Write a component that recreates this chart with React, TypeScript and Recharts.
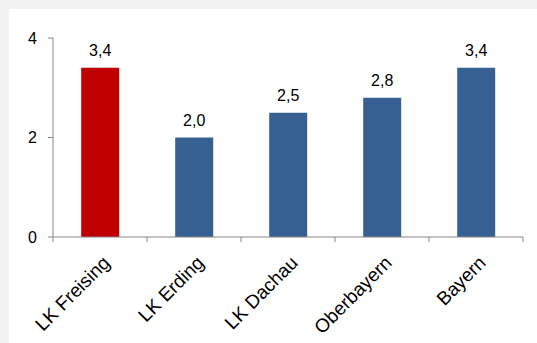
import { Bar, BarChart, Cell, LabelList, Line, XAxis, YAxis } from 'recharts';

const regions = ['LK Freising', 'LK Erding', 'LK Dachau', 'Oberbayern', 'Bayern'];
const values = [3.4, 2.0, 2.5, 2.8, 3.4];
const barColors = ['#c00000', '#376092', '#376092', '#376092', '#376092'];
const slotPositions = [0.5, 1.5, 2.5, 3.5, 4.5];
const yTicks = [0, 2, 4];
const boundaryTicks = [0, 1, 2, 3, 4, 5];

const data = regions.map((name, i) => ({ name, value: values[i], pos: slotPositions[i] }));

const FONT = '"Liberation Sans", Arial, sans-serif';
const AXIS = '#868686';

function RotatedTick(props: any) {
  const { x, y, payload } = props;
  const ax = x + 11;
  const ay = y + 18;
  return (
    <text
      x={ax}
      y={ay}
      transform={`rotate(-45, ${ax}, ${ay})`}
      textAnchor="end"
      fontSize={19}
      fontFamily={FONT}
      fill="#000"
    >
      {payload.value}
    </text>
  );
}

// tick marks only, no labels
const NoLabel = () => <g />;

export default function App() {
  return (
    <div style={{ position: 'absolute', left: 0, top: 0, width: 537, height: 343, background: '#f2f2f2' }}>
      <div style={{ position: 'absolute', left: 9, top: 9, width: 528, height: 334, background: '#fff' }} />
      <div style={{ position: 'absolute', left: 0, top: 0 }}>
        <BarChart
          width={537}
          height={343}
          data={data}
          margin={{ top: 38, right: 14, bottom: 16, left: 8 }}
          barCategoryGap="30%"
          style={{ fontFamily: FONT }}
        >
          <XAxis
            xAxisId="a"
            dataKey="pos"
            type="number"
            domain={[0, 5]}
            ticks={boundaryTicks}
            tick={<NoLabel />}
            height={1}
            stroke={AXIS}
            tickSize={5}
            allowDataOverflow
          />
          <XAxis
            xAxisId="b"
            dataKey="name"
            axisLine={false}
            tickLine={false}
            height={89}
            interval={0}
            tick={<RotatedTick />}
          />
          <YAxis
            domain={[0, 4]}
            ticks={yTicks}
            width={45}
            stroke={AXIS}
            tickSize={5}
            tickMargin={11}
            tick={{ fontSize: 16, fill: '#000', fontFamily: FONT }}
          />
          <Bar dataKey="value" xAxisId="b" isAnimationActive={false}>
            {data.map((d, i) => (
              <Cell key={d.name} fill={barColors[i]} />
            ))}
            <LabelList
              dataKey="value"
              position="top"
              offset={12}
              fontSize={16}
              fontFamily={FONT}
              fill="#000"
              formatter={(v: any) => Number(v).toFixed(1).replace('.', ',')}
            />
          </Bar>
          <Line
            xAxisId="a"
            dataKey="value"
            stroke="none"
            dot={false}
            activeDot={false}
            legendType="none"
            isAnimationActive={false}
          />
        </BarChart>
      </div>
    </div>
  );
}
